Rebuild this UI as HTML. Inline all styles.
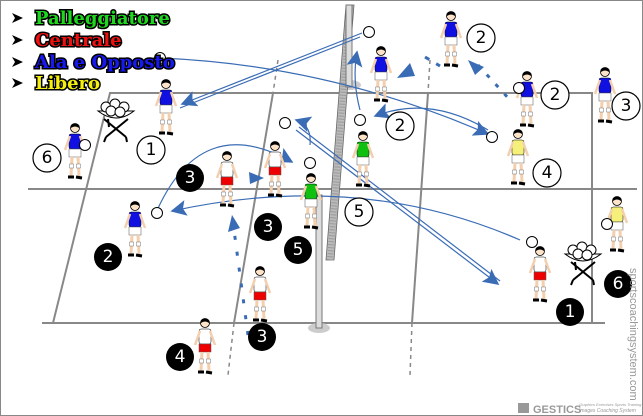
<!DOCTYPE html>
<html><head><meta charset="utf-8"><style>
html,body{margin:0;padding:0;background:#fff}
svg{display:block}
.lg{font-family:"DejaVu Serif","Liberation Serif",serif;font-weight:bold;font-size:18px;stroke:#000;stroke-width:3px;paint-order:stroke;}
.n{font-family:"DejaVu Sans","Liberation Sans",sans-serif;font-size:17px;text-anchor:middle;dominant-baseline:central}
</style></head><body>
<svg width="643" height="416" viewBox="0 0 643 416" xmlns="http://www.w3.org/2000/svg">
<defs>
<symbol id="pa" viewBox="0 0 24 60" width="26" height="60" overflow="visible">
 <circle cx="12" cy="6" r="4.5" fill="#fde3c8" stroke="#000" stroke-width="0.8"/>
 <path d="M7.5 4 Q12 -1 16.5 4 L16 6 Q12 3 8 6Z" fill="#000"/>
 <rect x="6" y="12" width="12" height="15" rx="2" fill="currentColor" stroke="#000" stroke-width="0.5"/>
 <path d="M7 14 L2 28 M17 14 L22 28" stroke="#f3cfae" stroke-width="2.5"/>
 <rect x="6" y="27" width="12" height="8" fill="var(--sh,#fff)" stroke="#555" stroke-width="0.5"/>
 <path d="M9 35 L8 54 M15 35 L16 54" stroke="#f3cfae" stroke-width="3"/>
 <rect x="6.5" y="42" width="4" height="4" fill="#fff" stroke="#555" stroke-width="0.4"/>
 <rect x="13.5" y="42" width="4" height="4" fill="#fff" stroke="#555" stroke-width="0.4"/>
 <path d="M5 55 L11 55 M13 55 L19 56" stroke="#000" stroke-width="3"/>
</symbol>
<symbol id="bk" viewBox="0 0 40 45" width="40" height="45" overflow="visible">
 <path d="M2 14 Q20 28 38 14 Z" fill="#fff" stroke="#000"/>
 <circle cx="10" cy="10" r="5" fill="#fff" stroke="#000"/><circle cx="19" cy="7" r="5" fill="#fff" stroke="#000"/><circle cx="28" cy="10" r="5" fill="#fff" stroke="#000"/><circle cx="15" cy="14" r="5" fill="#fff" stroke="#000"/><circle cx="24" cy="15" r="5" fill="#fff" stroke="#000"/>
 <path d="M8 22 L30 40 M32 22 L10 40 M10 40 L8 45 M30 40 L31 45 M12 22 L13 30" stroke="#000" stroke-width="2" fill="none"/>
</symbol>
<marker id="ar" viewBox="0 0 10 10" refX="9" refY="5" markerWidth="11" markerHeight="11" markerUnits="userSpaceOnUse" orient="auto"><path d="M0 0 L10 5 L0 10 L2 5Z" fill="#3a6cb5"/></marker>
<marker id="ar2" viewBox="0 0 10 10" refX="9" refY="5" markerWidth="16" markerHeight="16" markerUnits="userSpaceOnUse" orient="auto"><path d="M0 0 L10 5 L0 10 L2 5Z" fill="#3a6cb5"/></marker>
</defs>
<rect x="0.5" y="0.5" width="642" height="415" fill="#fff" stroke="#888"/>
<g stroke="#888" stroke-width="2" fill="none">
 <path d="M110 93 L592 93 L592 323 L53 323 Z"/>
 <path d="M28 189 L637 189"/>
 <path d="M273 93 L234 323"/>
 <path d="M428 93 L412 323"/>
 <path d="M42 323 L53 323 M592 323 L605 323" />
 <path d="M234 323 L228 375 M412 323 L410 375 M278 60 L273 93 M430 60 L428 93" stroke-dasharray="4 4" stroke-width="1.5"/>
</g>
<ellipse cx="350" cy="85" rx="11" ry="5" fill="#ccc"/>
<ellipse cx="319" cy="328" rx="11" ry="5" fill="#ccc"/>
<path d="M346 5 L354 5 L334 260 L326 260 Z" fill="#bbb" stroke="#666" stroke-width="0.8"/>
<path d="M350 5 L330 260" stroke="#999" stroke-width="6" stroke-dasharray="1 2"/>
<rect x="346" y="5" width="6" height="82" fill="#ddd" stroke="#777"/>
<rect x="316" y="195" width="6" height="133" fill="#ddd" stroke="#777"/>
<g stroke="#3a6cb5" stroke-width="1.2" fill="none">
 <path d="M362 33 L182 104" marker-end="url(#ar2)"/><path d="M360 37 L180 108"/>
 <path d="M160 58 Q330 65 488 134" marker-end="url(#ar2)"/>
 <path d="M360 110 Q352 80 357 52" marker-end="url(#ar2)"/>
 <path d="M488 130 Q430 95 375 116" marker-end="url(#ar2)"/>
 <path d="M296 130 L498 284" marker-end="url(#ar2)"/><path d="M299 127 L500 281"/>
 <path d="M155 215 Q200 110 292 162" marker-end="url(#ar2)"/>
 <path d="M520 240 Q360 170 172 211" marker-end="url(#ar2)"/>
 <path d="M310 145 Q312 125 296 120" marker-end="url(#ar2)"/>
 <path d="M425 57 L440 66" stroke-dasharray="5 8" stroke-width="3"/>
 <path d="M478 65 L510 100" stroke-dasharray="4 9" stroke-width="3"/>
 <path d="M248 335 L232 215" stroke-dasharray="4 12" stroke-width="3"/>
</g>
<g fill="#3a6cb5">
 <path d="M397 78 L410 63 L415 76Z"/><path d="M468 60 L484 67 L475 75Z"/>
 <path d="M249 172 L264 178 L250 184Z"/><path d="M228 232 L232 215 L240 228Z"/>
</g>
<use href="#bk" x="96" y="97"/>
<use href="#bk" x="563" y="240"/>
<g>
<use href="#pa" x="153" y="78" style="color:#1010e0"/>
<use href="#pa" x="368" y="45" style="color:#1010e0"/>
<use href="#pa" x="438" y="10" style="color:#1010e0"/>
<use href="#pa" x="514" y="70" style="color:#1010e0"/>
<use href="#pa" x="592" y="66" style="color:#1010e0"/>
<use href="#pa" x="505" y="128" style="color:#f5f07a"/>
<use href="#pa" x="604" y="195" style="color:#f5f07a"/>
<use href="#pa" x="62" y="122" style="color:#1010e0"/>
<use href="#pa" x="350" y="130" style="color:#10c010"/>
<use href="#pa" x="298" y="172" style="color:#10c010"/>
<use href="#pa" x="262" y="140" style="color:#fff;--sh:#e00"/>
<use href="#pa" x="214" y="150" style="color:#fff;--sh:#e00"/>
<use href="#pa" x="122" y="200" style="color:#1010e0"/>
<use href="#pa" x="247" y="265" style="color:#fff;--sh:#e00"/>
<use href="#pa" x="192" y="317" style="color:#fff;--sh:#e00"/>
<use href="#pa" x="527" y="245" style="color:#fff;--sh:#e00"/>
</g>
<g fill="#fff" stroke="#000" stroke-width="1">
<circle cx="160" cy="58" r="5.5"/><circle cx="369" cy="32" r="5.5"/><circle cx="519" cy="88" r="5.5"/>
<circle cx="492" cy="137" r="5.5"/><circle cx="607" cy="224" r="5.5"/><circle cx="85" cy="145" r="5.5"/>
<circle cx="360" cy="120" r="5.5"/><circle cx="310" cy="163" r="5.5"/><circle cx="285" cy="123" r="5.5"/>
<circle cx="157" cy="213" r="5.5"/><circle cx="532" cy="242" r="5.5"/>
</g>
<g>
<g fill="#fff" stroke="#000" stroke-width="1.2">
<circle cx="481" cy="38" r="14"/><circle cx="555" cy="95" r="14"/><circle cx="626" cy="106" r="14"/>
<circle cx="400" cy="126" r="14"/><circle cx="151" cy="150" r="14"/><circle cx="47" cy="158" r="14"/>
<circle cx="547" cy="173" r="14"/><circle cx="359" cy="212" r="14"/>
</g>
<g fill="#000">
<circle cx="190" cy="178" r="14"/><circle cx="268" cy="227" r="14"/><circle cx="298" cy="250" r="14"/>
<circle cx="108" cy="257" r="14"/><circle cx="618" cy="284" r="14"/><circle cx="570" cy="312" r="14"/>
<circle cx="262" cy="337" r="14"/><circle cx="180" cy="357" r="14"/>
</g>
<g class="n" fill="#000">
<text x="481" y="38">2</text><text x="555" y="95">2</text><text x="626" y="106">3</text>
<text x="400" y="126">2</text><text x="151" y="150">1</text><text x="47" y="158">6</text>
<text x="547" y="173">4</text><text x="359" y="212">5</text>
</g>
<g class="n" fill="#fff">
<text x="190" y="178">3</text><text x="268" y="227">3</text><text x="298" y="250">5</text>
<text x="108" y="257">2</text><text x="618" y="284">6</text><text x="570" y="312">1</text>
<text x="262" y="337">3</text><text x="180" y="357">4</text>
</g>
</g>
<g fill="#000">
<path d="M12 13 L23 18 L12 23 L15 18Z"/><path d="M12 35 L23 40 L12 45 L15 40Z"/>
<path d="M12 57 L23 62 L12 67 L15 62Z"/><path d="M12 78 L23 83 L12 88 L15 83Z"/>
</g>
<text class="lg" x="35" y="24" fill="#1ed81e">Palleggiatore</text>
<text class="lg" x="35" y="46" fill="#f01010">Centrale</text>
<text class="lg" x="35" y="68" fill="#1818f0">Ala e Opposto</text>
<text class="lg" x="35" y="89" fill="#f5f010">Libero</text>
<text transform="translate(630,268) rotate(90)" font-family="Liberation Sans,sans-serif" font-size="11" fill="#999">sportscoachingsystem.com</text>
<rect x="518" y="403" width="11" height="10" fill="#999"/>
<text x="533" y="413" font-family="Liberation Sans,sans-serif" font-weight="bold" font-size="11" fill="#999">GESTICS</text>
<text x="579" y="406" font-family="Liberation Sans,sans-serif" font-style="italic" font-size="4" fill="#999">Graphics Exercises Sports Training</text>
<text x="579" y="412" font-family="Liberation Sans,sans-serif" font-style="italic" font-size="5" fill="#999">Images Coaching System</text>
</svg>
</body></html>
